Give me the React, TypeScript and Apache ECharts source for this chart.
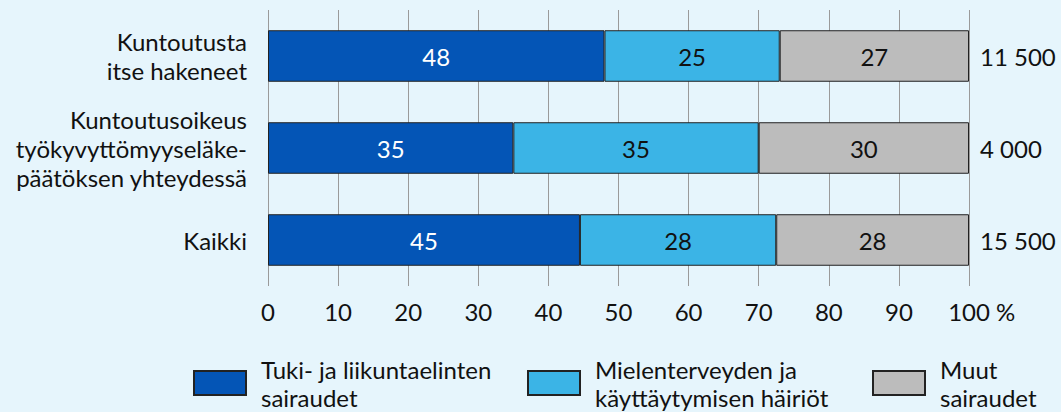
import React, { useEffect, useRef } from "react";
import * as echarts from "echarts";

const categories = ["Kuntoutusta\nitse hakeneet", "Kuntoutusoikeus\ntyökyvyttömyyseläke-\npäätöksen yhteydessä", "Kaikki"];
const totals = ["11 500", "4 000", "15 500"];
const seriesNames = ["Tuki- ja liikuntaelinten\nsairaudet", "Mielenterveyden ja\nkäyttäytymisen häiriöt", "Muut\nsairaudet"];
const tuki = [48, 35, 44.5];
const mieli = [25, 35, 28];
const muut = [27, 30, 27.5];
const tukiLabels = ["48", "35", "45"];
const mieliLabels = ["25", "35", "28"];
const muutLabels = ["27", "30", "28"];
const xTicks = [0, 100, 10];

const FONT = "Lato";
const FS = 24;
const colors = ["#0455b6", "#3bb4e6", "#bcbcbc"];
const labelColors = ["#ffffff", "#111111", "#111111"];

export default function App() {
  const ref = useRef<HTMLDivElement>(null);
  useEffect(() => {
    if (!ref.current) return;
    const chart = echarts.init(ref.current, null, { renderer: "svg" });
    const values = [tuki, mieli, muut];
    const labels = [tukiLabels, mieliLabels, muutLabels];
    const legendLefts = [188, 522, 867];
    chart.setOption({
      animation: false,
      backgroundColor: "#e6f5fc",
      textStyle: { fontFamily: FONT },
      grid: { left: 268, right: 92, top: 10, bottom: 126 },
      legend: seriesNames.map((n, i) => ({
        data: [n],
        left: legendLefts[i],
        top: 350,
        itemWidth: 52,
        itemHeight: 24,
        icon: "rect",
        selectedMode: false,
        textStyle: { fontSize: FS, lineHeight: 28, color: "#111", fontFamily: FONT, padding: [0, 0, 0, 10] },
      })),
      xAxis: {
        type: "value",
        min: xTicks[0],
        max: xTicks[1],
        interval: xTicks[2],
        axisLine: { show: false },
        axisTick: { show: false },
        splitLine: { lineStyle: { color: "#9a9a9a", width: 1 } },
        axisLabel: { fontSize: FS, color: "#111", margin: 13, fontFamily: FONT },
      },
      yAxis: [
        {
          type: "category",
          data: categories,
          inverse: true,
          axisLine: { show: false },
          axisTick: { show: false },
          axisLabel: { fontSize: FS, lineHeight: 29, color: "#111", margin: 21, align: "right", fontFamily: FONT },
        },
        {
          type: "category",
          data: totals,
          inverse: true,
          position: "right",
          axisLine: { show: false },
          axisTick: { show: false },
          axisLabel: { fontSize: FS, color: "#111", margin: 11, align: "left", fontFamily: FONT },
        },
      ],
      graphic: [
        { type: "text", left: 996, top: 299, style: { text: "%", fontSize: FS, fill: "#111", fontFamily: FONT } },
      ],
      series: values.map((v, i) => ({
        type: "bar",
        name: seriesNames[i],
        stack: "total",
        barCategoryGap: "44%",
        data: v,
        itemStyle: { color: colors[i], borderColor: "#222", borderWidth: 1 },
        label: {
          show: true,
          position: "inside",
          fontSize: FS,
          color: labelColors[i],
          fontFamily: FONT,
          formatter: (p: any) => labels[i][p.dataIndex],
        },
      })),
    });
    return () => chart.dispose();
  }, []);
  return <div ref={ref} style={{ position: "fixed", left: 0, top: 0, width: 1061, height: 412 }} />;
}
